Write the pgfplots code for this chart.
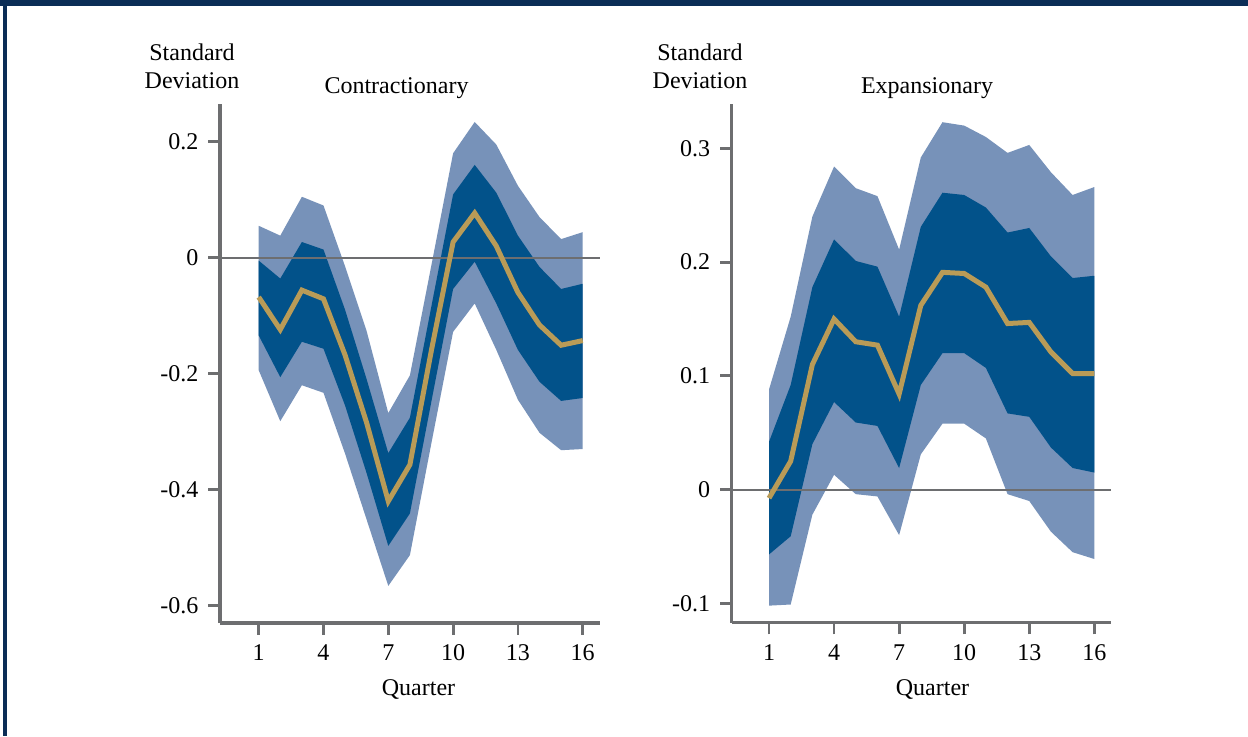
\documentclass[border=0pt]{standalone}
\usepackage{fontspec}
\setmainfont{Liberation Serif}
\usepackage{pgfplots}
\usepackage{pgfplotstable}
\pgfplotsset{compat=1.18}
\usepgfplotslibrary{fillbetween}
\definecolor{light}{HTML}{7792B9}
\definecolor{dark}{HTML}{02528A}
\definecolor{gold}{HTML}{B99B57}
\definecolor{axisgray}{HTML}{6D6E70}
\definecolor{navy}{HTML}{0B2D56}

\pgfplotstableread{
q med hi68 lo68 hi90 lo90
1 -0.068 -0.005 -0.134 0.055 -0.194
2 -0.124 -0.036 -0.206 0.038 -0.282
3 -0.056 0.027 -0.145 0.105 -0.220
4 -0.071 0.014 -0.157 0.090 -0.233
5 -0.168 -0.090 -0.255 -0.015 -0.338
6 -0.285 -0.210 -0.372 -0.127 -0.452
7 -0.420 -0.337 -0.497 -0.268 -0.566
8 -0.357 -0.276 -0.441 -0.203 -0.513
9 -0.159 -0.083 -0.247 -0.012 -0.319
10 0.027 0.109 -0.054 0.180 -0.128
11 0.077 0.160 -0.007 0.234 -0.079
12 0.020 0.112 -0.079 0.195 -0.159
13 -0.060 0.038 -0.159 0.124 -0.245
14 -0.116 -0.016 -0.214 0.070 -0.302
15 -0.151 -0.054 -0.247 0.032 -0.332
16 -0.143 -0.045 -0.242 0.044 -0.330
}\contrtab

\pgfplotstableread{
q med hi68 lo68 hi90 lo90
1 -0.0075 0.042 -0.057 0.088 -0.102
2 0.025 0.092 -0.041 0.152 -0.101
3 0.110 0.178 0.040 0.240 -0.022
4 0.150 0.220 0.077 0.284 0.013
5 0.130 0.201 0.059 0.265 -0.004
6 0.127 0.196 0.056 0.258 -0.006
7 0.084 0.152 0.019 0.211 -0.040
8 0.162 0.231 0.092 0.292 0.031
9 0.191 0.261 0.120 0.323 0.058
10 0.190 0.259 0.120 0.320 0.058
11 0.178 0.248 0.107 0.310 0.045
12 0.146 0.226 0.067 0.296 -0.004
13 0.147 0.230 0.064 0.303 -0.010
14 0.121 0.205 0.037 0.279 -0.037
15 0.102 0.186 0.019 0.259 -0.055
16 0.102 0.188 0.015 0.266 -0.061
}\expantab

\pgfplotsset{
  panel/.style={
    scale only axis,
    anchor=south west,
    axis x line*=bottom,
    axis y line*=left,
    axis line style={-, axisgray, line width=1.6pt},
    tick style={axisgray, line width=1.4pt},
    tick align=outside,
    major tick length=5.8pt,
    xtick={1,4,7,10,13,16},
    xticklabels={1,4,7,10,13,16},
    tick label style={font=\fontsize{12}{14}\selectfont, text=black},
    xticklabel style={text height=1.6ex, text depth=0.2ex, yshift=-2pt},
    yticklabel style={xshift=-1.5pt},
    clip=false,
  }
}

\begin{document}
\begin{tikzpicture}[font=\fontsize{12}{14}\selectfont]
\path (0,0) rectangle (624pt,368pt);
\fill[navy] (0,365pt) rectangle (624pt,368pt);
\fill[navy] (1.5pt,0) rectangle (3.5pt,368pt);

\node[align=center, font=\fontsize{12}{14}\selectfont] at (96pt,335pt) {Standard\\Deviation};
\node[align=center, font=\fontsize{12}{14}\selectfont] at (350pt,335pt) {Standard\\Deviation};
\node at (198.25pt,324pt) {Contractionary};
\node at (463.5pt,324pt) {Expansionary};
\node at (209.25pt,23.5pt) {Quarter};
\node at (466.25pt,23.5pt) {Quarter};

\begin{axis}[panel,
  at={(110pt,56.5pt)}, width=190pt, height=259.5pt,
  xmin=-0.79, xmax=16.8, ymin=-0.63, ymax=0.265,
  ytick={-0.6,-0.4,-0.2,0,0.2},
  yticklabels={-0.6,-0.4,-0.2,0,0.2},
]
\addplot[name path=a90, draw=none] table[x=q,y=hi90]{\contrtab};
\addplot[name path=b90, draw=none] table[x=q,y=lo90]{\contrtab};
\addplot[fill=light, draw=none] fill between[of=a90 and b90];
\addplot[name path=a68, draw=none] table[x=q,y=hi68]{\contrtab};
\addplot[name path=b68, draw=none] table[x=q,y=lo68]{\contrtab};
\addplot[fill=dark, draw=none] fill between[of=a68 and b68];
\draw[axisgray, line width=1pt] (axis cs:-0.79,0) -- (axis cs:16.8,0);
\addplot[gold, line width=2.5pt] table[x=q,y=med]{\contrtab};
\end{axis}

\begin{axis}[panel,
  at={(365.85pt,56.65pt)}, width=189.65pt, height=259.35pt,
  xmin=-0.72, xmax=16.77, ymin=-0.117, ymax=0.339,
  ytick={-0.1,0,0.1,0.2,0.3},
  yticklabels={-0.1,0,0.1,0.2,0.3},
]
\addplot[name path=c90, draw=none] table[x=q,y=hi90]{\expantab};
\addplot[name path=d90, draw=none] table[x=q,y=lo90]{\expantab};
\addplot[fill=light, draw=none] fill between[of=c90 and d90];
\addplot[name path=c68, draw=none] table[x=q,y=hi68]{\expantab};
\addplot[name path=d68, draw=none] table[x=q,y=lo68]{\expantab};
\addplot[fill=dark, draw=none] fill between[of=c68 and d68];
\draw[axisgray, line width=1pt] (axis cs:-0.72,0) -- (axis cs:16.77,0);
\addplot[gold, line width=2.5pt] table[x=q,y=med]{\expantab};
\end{axis}
\end{tikzpicture}
\end{document}
